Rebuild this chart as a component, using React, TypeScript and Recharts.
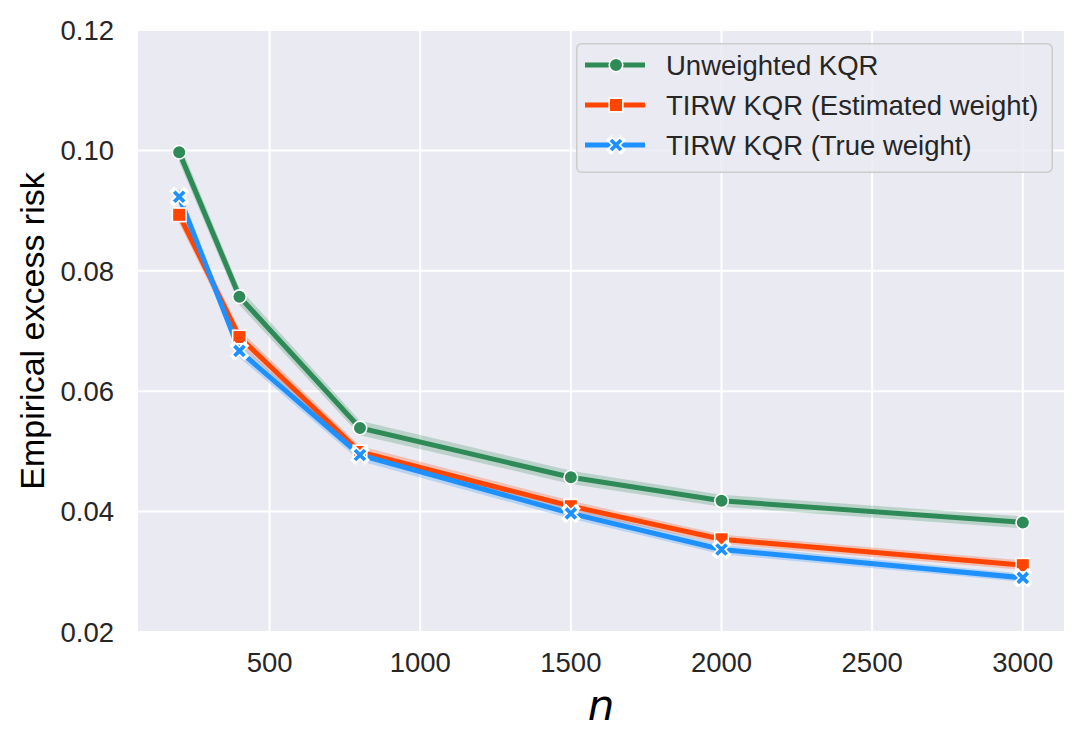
import {
  ComposedChart,
  Line,
  Area,
  XAxis,
  YAxis,
  CartesianGrid,
  Legend,
  Label,
} from "recharts";

const nValues = [200, 400, 800, 1500, 2000, 3000];
const unweighted = [0.0997, 0.0757, 0.0539, 0.0457, 0.0418, 0.0382];
const estimated = [0.0893, 0.069, 0.0499, 0.0409, 0.0354, 0.0311];
const trueWeight = [0.0923, 0.0667, 0.0494, 0.0397, 0.0337, 0.029];
// half widths of the shaded bands
const unweightedCi = [0.0016, 0.0014, 0.0012, 0.0011, 0.001, 0.001];
const estimatedCi = [0.0014, 0.0012, 0.001, 0.0009, 0.0008, 0.0008];
const trueWeightCi = [0.0014, 0.0011, 0.001, 0.0009, 0.0008, 0.0007];

const xTicks = [500, 1000, 1500, 2000, 2500, 3000];
const yTicks = [0.02, 0.04, 0.06, 0.08, 0.1, 0.12];

const GREEN = "#2E8B57";
const ORANGE = "#FF4500";
const BLUE = "#1E90FF";
const TEXT = "#262626";
const FONT = "'Liberation Sans', Arial, sans-serif";

const data = nValues.map((n, i) => ({
  n,
  u: unweighted[i],
  uBand: [unweighted[i] - unweightedCi[i], unweighted[i] + unweightedCi[i]],
  e: estimated[i],
  eBand: [estimated[i] - estimatedCi[i], estimated[i] + estimatedCi[i]],
  t: trueWeight[i],
  tBand: [trueWeight[i] - trueWeightCi[i], trueWeight[i] + trueWeightCi[i]],
}));

const CircleMark = ({ cx, cy, color }: any) => (
  <circle cx={cx} cy={cy} r={6.8} fill={color} stroke="#fff" strokeWidth={1.6} />
);

const SquareMark = ({ cx, cy, color }: any) => (
  <rect x={cx - 6.8} y={cy - 6.8} width={13.6} height={13.6} fill={color} stroke="#fff" strokeWidth={1.6} />
);

const XMark = ({ cx, cy, color }: any) => {
  const d = `M${cx - 5},${cy - 5}L${cx + 5},${cy + 5}M${cx + 5},${cy - 5}L${cx - 5},${cy + 5}`;
  return (
    <g>
      <path d={d} stroke="#fff" strokeWidth={7} strokeLinecap="square" />
      <path d={d} stroke={color} strokeWidth={3.8} strokeLinecap="butt" />
    </g>
  );
};

const legendRows = [
  { label: "Unweighted KQR", color: GREEN, Mark: CircleMark },
  { label: "TIRW KQR (Estimated weight)", color: ORANGE, Mark: SquareMark },
  { label: "TIRW KQR (True weight)", color: BLUE, Mark: XMark },
];

const LegendBox = () => (
  <svg width={477} height={130} style={{ display: "block" }}>
    <rect
      x={0.75}
      y={0.75}
      width={475.5}
      height={128.5}
      rx={5}
      fill="rgba(234,234,242,0.8)"
      stroke="#cccccc"
      strokeWidth={1.5}
    />
    {legendRows.map((r, i) => {
      const y = 22 + i * 40;
      return (
        <g key={r.label}>
          <line x1={9} x2={69} y1={y} y2={y} stroke={r.color} strokeWidth={5} />
          <r.Mark cx={40} cy={y} color={r.color} />
          <text
            x={90}
            y={y + 9.8}
            fontSize={27.5}
            fill={TEXT}
            style={{ fontFamily: FONT }}
          >
            {r.label}
          </text>
        </g>
      );
    })}
  </svg>
);

export default function App() {
  const tickStyle = { fontSize: 27.5, fill: TEXT, fontFamily: FONT };
  return (
    <div style={{ position: "absolute", left: 0, top: 0, background: "#fff" }}>
      <ComposedChart
        width={1085}
        height={748}
        data={data}
        margin={{ top: 30, right: 20, left: 0, bottom: 0 }}
      >
        <CartesianGrid fill="#EAEAF2" stroke="#fff" strokeWidth={2} />
        <XAxis
          dataKey="n"
          type="number"
          domain={[60, 3140]}
          ticks={xTicks}
          height={116}
          axisLine={false}
          tickLine={false}
          tickSize={0}
          tickMargin={20}
          tick={tickStyle}
          allowDataOverflow
        >
          <Label
            content={() => (
              <text
                x={601}
                y={720}
                textAnchor="middle"
                fontSize={42}
                fontStyle="italic"
                fill="#000"
                style={{ fontFamily: "'DejaVu Sans', sans-serif" }}
              >
                n
              </text>
            )}
          />
        </XAxis>
        <YAxis
          type="number"
          domain={[0.02, 0.12]}
          ticks={yTicks}
          width={137}
          axisLine={false}
          tickLine={false}
          tickSize={0}
          tickMargin={23}
          tick={tickStyle}
          tickFormatter={(v: number) => v.toFixed(2)}
          allowDataOverflow
        >
          <Label
            content={() => (
              <text
                x={44}
                y={331}
                transform="rotate(-90 44 331)"
                textAnchor="middle"
                fontSize={34}
                fill="#000"
                style={{ fontFamily: FONT }}
              >
                Empirical excess risk
              </text>
            )}
          />
        </YAxis>

        <Area dataKey="uBand" type="linear" stroke="none" fill={GREEN} fillOpacity={0.25} isAnimationActive={false} activeDot={false} />
        <Area dataKey="eBand" type="linear" stroke="none" fill={ORANGE} fillOpacity={0.25} isAnimationActive={false} activeDot={false} />
        <Area dataKey="tBand" type="linear" stroke="none" fill={BLUE} fillOpacity={0.25} isAnimationActive={false} activeDot={false} />

        <Line
          dataKey="u"
          type="linear"
          stroke={GREEN}
          strokeWidth={5}
          isAnimationActive={false}
          activeDot={false}
          dot={(p: any) => <CircleMark key={`u-${p.index}`} cx={p.cx} cy={p.cy} color={GREEN} />}
        />
        <Line
          dataKey="e"
          type="linear"
          stroke={ORANGE}
          strokeWidth={5}
          isAnimationActive={false}
          activeDot={false}
          dot={(p: any) => <SquareMark key={`e-${p.index}`} cx={p.cx} cy={p.cy} color={ORANGE} />}
        />
        <Line
          dataKey="t"
          type="linear"
          stroke={BLUE}
          strokeWidth={5}
          isAnimationActive={false}
          activeDot={false}
          dot={(p: any) => <XMark key={`t-${p.index}`} cx={p.cx} cy={p.cy} color={BLUE} />}
        />

        <Legend
          layout="vertical"
          verticalAlign="middle"
          align="center"
          content={() => <LegendBox />}
          wrapperStyle={{ left: 576, top: 43, width: 477, height: 130 }}
        />
      </ComposedChart>
    </div>
  );
}
